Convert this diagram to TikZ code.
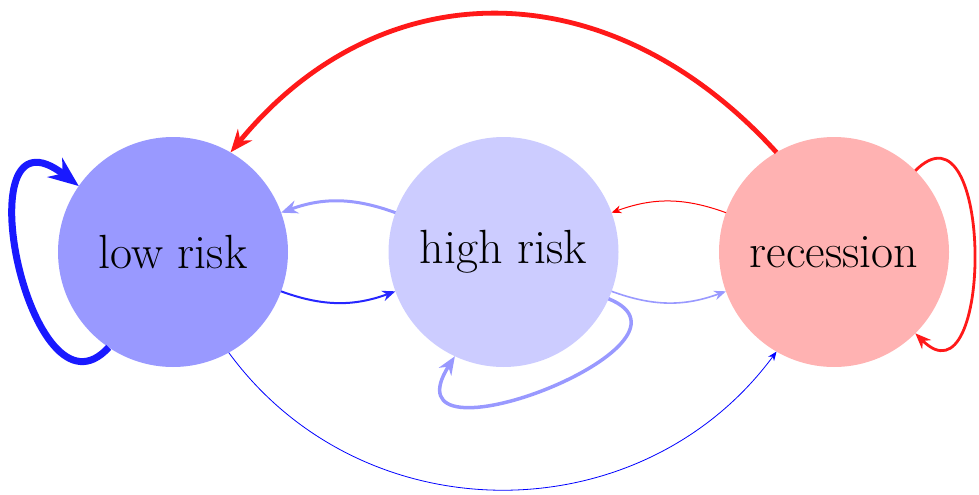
\documentclass[tikz,border=0pt]{standalone}
\usetikzlibrary{arrows.meta}
\begin{document}
\tikzset{
  state/.style={circle, inner sep=0pt, outer sep=0pt, minimum size=115pt,
    font=\fontsize{24}{29}\selectfont},
  tip/.style={-{Stealth[length=3.2pt 3.4, width=2.6pt 2.7]}},
}
\begin{tikzpicture}[x=0.5pt, y=0.5pt]
\useasboundingbox (0,0) rectangle (979,494);
\node[state, fill=blue!40] (low) at (173,242) {low risk};
\node[state, fill=blue!20] (high) at (503.5,242) {high risk};
\node[state, fill=red!30] (rec) at (834,242) {recession};

% recession -> low risk (big arc over the top)
\draw[tip, red!90, line width=2.4pt] (rec.120) .. controls (608,527) and (380,524) .. (low.60);
% low risk self loop
\draw[tip, blue!90, line width=3.5pt] (low.236) .. controls (30,60) and (-40,400) .. (low.145);
% high risk -> low risk
\draw[tip, blue!40, line width=1.5pt] (high.160) to[out=160, in=20] (low.20);
% low risk -> high risk
\draw[tip, blue!85, line width=1pt] (low.-20) to[out=-20, in=200] (high.200);
% low risk -> recession (big arc under the bottom)
\draw[tip, blue, line width=0.4pt] (low.-61.6) .. controls (363,-42) and (641,-41) .. (rec.240);
% high risk self loop
\draw[tip, blue!40, line width=1.75pt] (high.-24.7) .. controls (720,150) and (380,20) .. (high.245);
% recession -> high risk
\draw[tip, red, line width=0.5pt] (rec.160) to[out=160, in=20] (high.20);
% high risk -> recession
\draw[tip, blue!40, line width=0.8pt] (high.-20) to[out=-20, in=200] (rec.200);
% recession self loop
\draw[tip, red!90, line width=1.4pt] (rec.45) .. controls +(78.5,78.5) and +(78.5,-78.5) .. (rec.-45);
\end{tikzpicture}
\end{document}
